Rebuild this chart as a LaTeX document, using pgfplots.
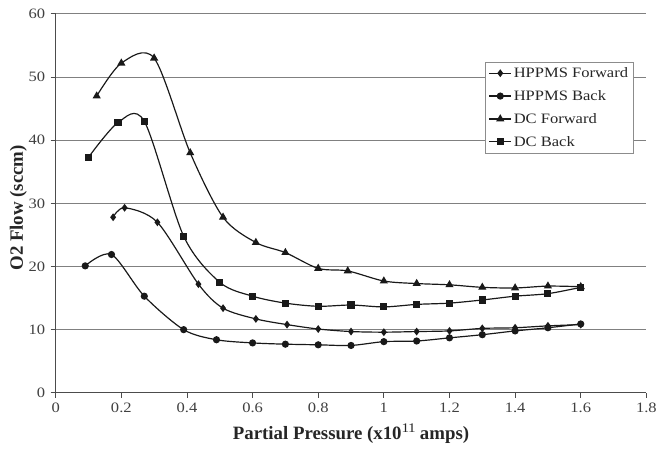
\documentclass[border=0pt]{standalone}
\usepackage{fontspec}
\setmainfont{Liberation Serif}[FakeStretch=1.15]
\newfontfamily\labfont{Liberation Serif}
\usepackage{pgfplots}
\pgfplotsset{compat=1.18}
\begin{document}
\begin{tikzpicture}
\begin{axis}[
  scale only axis, width=594bp, height=381bp,
  xmin=0, xmax=1.8, ymin=0, ymax=60,
  xtick={0,0.2,0.4,0.6,0.8,1,1.2,1.4,1.6,1.8},
  ytick={0,10,20,30,40,50,60},
  axis x line*=bottom, axis y line*=left,
  axis line style={-, draw=black!70, line width=1pt},
  tick align=outside, major tick length=5bp,
  tick style={draw=black!70, line width=0.9pt},
  ymajorgrids, grid style={draw=black!50, line width=0.9pt},
  /pgf/number format/assume math mode=true,
  tick label style={font=\fontsize{14.5}{17}\selectfont, text=black!75},
  yticklabel style={xshift=-2bp},
  xticklabel style={yshift=-2bp},
  xlabel={Partial Pressure (x10$^{\mathrm{11}}$ amps)},
  ylabel={O2 Flow (sccm)},
  label style={font=\labfont\fontsize{19}{22}\selectfont\bfseries, text=black!85},
  xlabel style={at={(rel axis cs:0.5,0)}, anchor=center, yshift=-41bp},
  ylabel style={at={(rel axis cs:0,0.5)}, anchor=center, yshift=37.5bp, xshift=-4.5bp},
  legend style={at={(rel axis cs:0.978,0.874)}, anchor=north east, draw=black!45, fill=white,
    font=\fontsize{14.5}{17}\selectfont, row sep=7.5bp, inner xsep=3bp, inner ysep=3.5bp, line width=0.7pt,
    nodes={text=black!85}},
  legend cell align=left,
  legend image code/.code={\draw[mark repeat=2,mark phase=2,#1] plot coordinates {(0bp,0bp) (11bp,0bp) (22bp,0bp)};},
  every axis plot/.append style={black!90, line width=1.2pt, smooth, tension=0.5, mark options={solid, fill=black!90}},
]
\addplot[mark=diamond*, mark size=3pt] coordinates {
(0.175,27.8) (0.21,29.3) (0.31,27) (0.435,17.2) (0.51,13.4) (0.61,11.7) (0.705,10.8) (0.8,10.1) (0.9,9.7) (1.0,9.6) (1.1,9.7) (1.2,9.8) (1.3,10.2) (1.4,10.3) (1.5,10.6) (1.6,10.8)};
\addlegendentry{HPPMS Forward}
\addplot[mark=*, mark size=3pt] coordinates {
(0.09,20.1) (0.17,21.9) (0.27,15.3) (0.39,10) (0.49,8.4) (0.6,7.9) (0.7,7.7) (0.8,7.6) (0.9,7.5) (1.0,8.1) (1.1,8.2) (1.2,8.7) (1.3,9.2) (1.4,9.8) (1.5,10.3) (1.6,10.9)};
\addlegendentry{HPPMS Back}
\addplot[mark=triangle*, mark size=3.6pt] coordinates {
(0.125,47) (0.2,52.2) (0.3,53) (0.41,38) (0.51,27.8) (0.61,23.8) (0.7,22.2) (0.8,19.7) (0.89,19.3) (1.0,17.7) (1.1,17.3) (1.2,17.1) (1.3,16.7) (1.4,16.6) (1.5,16.9) (1.6,16.8)};
\addlegendentry{DC Forward}
\addplot[mark=square*, mark size=3pt] coordinates {
(0.1,37.3) (0.19,42.8) (0.27,43) (0.39,24.8) (0.5,17.5) (0.6,15.3) (0.7,14.2) (0.8,13.7) (0.9,13.9) (1.0,13.6) (1.1,14.0) (1.2,14.2) (1.3,14.7) (1.4,15.3) (1.5,15.7) (1.6,16.7)};
\addlegendentry{DC Back}
\end{axis}
\path (-56bp,-61bp) rectangle (604bp,395bp);
\end{tikzpicture}
\end{document}
